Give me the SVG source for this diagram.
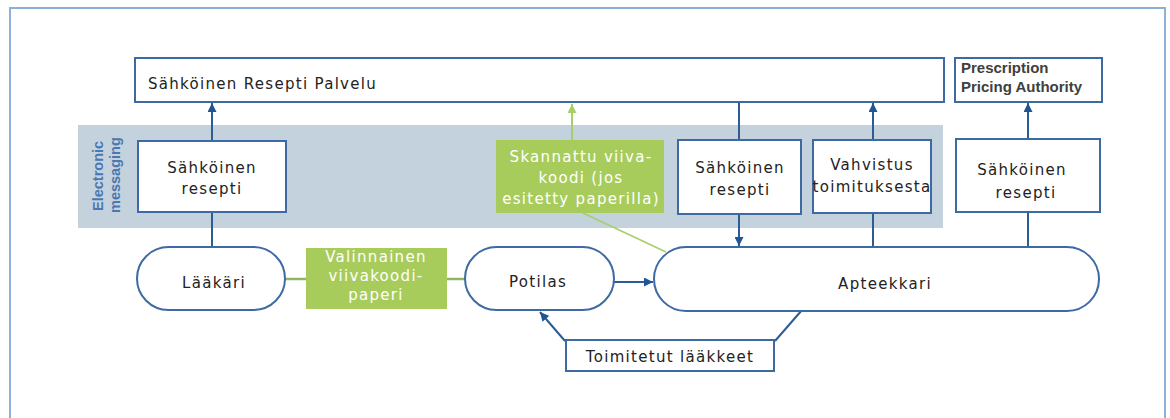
<svg xmlns="http://www.w3.org/2000/svg" width="1170" height="418" viewBox="0 0 1170 418">
<defs>
<style>
.box{fill:#fff;stroke:#3d6aa3;stroke-width:2}
.gbox{fill:#a8cc5c}
.t{font-family:"DejaVu Sans",Verdana,sans-serif;font-size:15px;fill:#222;letter-spacing:1.3px;text-anchor:middle}
.tw{font-family:"DejaVu Sans",Verdana,sans-serif;font-size:15px;fill:#fff;letter-spacing:1.3px;text-anchor:middle}
.c{fill:none;stroke:#2c5c96;stroke-width:2}
.g{fill:none;stroke:#8db86a;stroke-width:2.5}
.gl{fill:none;stroke:#a6cf6a;stroke-width:1.5}
.b{font-family:"Liberation Sans",Arial,sans-serif;font-weight:bold;font-size:15px;fill:#404040}
.em{font-family:"Liberation Sans",Arial,sans-serif;font-weight:bold;font-size:14.5px;fill:#4a78b0}
</style>
<marker id="ab" viewBox="0 0 10 10" refX="10" refY="5" markerWidth="10" markerHeight="9" markerUnits="userSpaceOnUse" orient="auto"><path d="M0,0 L10,5 L0,10 z" fill="#1f5593"/></marker>
<marker id="ag" viewBox="0 0 10 10" refX="10" refY="5" markerWidth="10" markerHeight="9" markerUnits="userSpaceOnUse" orient="auto"><path d="M0,0 L10,5 L0,10 z" fill="#a6cf6a"/></marker>
</defs>
<rect width="1170" height="418" fill="#fff"/>
<rect x="10" y="8" width="1155" height="430" fill="none" stroke="#8db0d8" stroke-width="2"/>
<rect id="band" x="78" y="125" width="865" height="103" fill="#c4d2de"/>
<g id="band-label">
<text class="em" transform="translate(103,211) rotate(-90)">Electronic</text>
<text class="em" transform="translate(120,213) rotate(-90)">messaging</text>
</g>
<g id="connectors">
<line class="c" x1="212" y1="141" x2="212" y2="103" marker-end="url(#ab)"/>
<line class="c" x1="212" y1="212" x2="212" y2="247"/>
<line class="g" x1="285" y1="279" x2="306" y2="279"/>
<line class="g" x1="447" y1="279" x2="465" y2="279"/>
<line class="c" x1="614" y1="282" x2="653" y2="282" marker-end="url(#ab)"/>
<line x1="572" y1="140" x2="572" y2="104" stroke="#a6cf6a" stroke-width="2" marker-end="url(#ag)"/>
<line class="gl" x1="583" y1="213" x2="666" y2="252"/>
<line class="c" x1="739" y1="102" x2="739" y2="140"/>
<line class="c" x1="739" y1="214" x2="739" y2="246" marker-end="url(#ab)"/>
<line class="c" x1="873" y1="140" x2="873" y2="103" marker-end="url(#ab)"/>
<line class="c" x1="873" y1="213" x2="873" y2="247"/>
<line class="c" x1="1028" y1="139" x2="1028" y2="103" marker-end="url(#ab)"/>
<line class="c" x1="1028" y1="212" x2="1028" y2="247"/>
<line class="c" x1="565" y1="341" x2="540" y2="312" marker-end="url(#ab)"/>
<line class="c" x1="775" y1="341" x2="802" y2="310"/>
</g>
<g id="palvelu">
<rect class="box" x="135" y="58" width="809" height="44"/>
<text class="t" x="148" y="89" style="text-anchor:start">Sähköinen Resepti Palvelu</text>
</g>
<g id="ppa">
<rect class="box" x="955" y="58" width="147" height="44"/>
<text class="b" x="961" y="73">Prescription</text>
<text class="b" x="961" y="92">Pricing Authority</text>
</g>
<g id="resepti1">
<rect class="box" x="138" y="141" width="148" height="71"/>
<text class="t" x="212" y="173">Sähköinen</text>
<text class="t" x="212" y="194">resepti</text>
</g>
<g id="skannattu">
<rect class="gbox" x="496" y="140" width="168" height="73"/>
<text class="tw" x="581" y="162">Skannattu viiva-</text>
<text class="tw" x="581" y="183">koodi (jos</text>
<text class="tw" x="581" y="204">esitetty paperilla)</text>
</g>
<g id="resepti2">
<rect class="box" x="678" y="140" width="123" height="74"/>
<text class="t" x="740" y="173">Sähköinen</text>
<text class="t" x="740" y="195">resepti</text>
</g>
<g id="vahvistus">
<rect class="box" x="813" y="140" width="118" height="73"/>
<text class="t" x="872" y="170">Vahvistus</text>
<text class="t" x="872" y="192">toimituksesta</text>
</g>
<g id="resepti3">
<rect class="box" x="956" y="139" width="144" height="73"/>
<text class="t" x="1022" y="175">Sähköinen</text>
<text class="t" x="1026" y="198">resepti</text>
</g>
<g id="laakari">
<rect class="box" x="137" y="247" width="148" height="63" rx="31.5"/>
<text class="t" x="214" y="288">Lääkäri</text>
</g>
<g id="valinnainen">
<rect class="gbox" x="306" y="248" width="141" height="61"/>
<text class="tw" x="376" y="262">Valinnainen</text>
<text class="tw" x="376" y="281">viivakoodi-</text>
<text class="tw" x="376" y="300">paperi</text>
</g>
<g id="potilas">
<rect class="box" x="465" y="247" width="149" height="63" rx="31.5"/>
<text class="t" x="538" y="287">Potilas</text>
</g>
<g id="apteekkari">
<rect class="box" x="654" y="247" width="445" height="64" rx="32"/>
<text class="t" x="885" y="289">Apteekkari</text>
</g>
<g id="toimitetut">
<rect class="box" x="566" y="340" width="208" height="31"/>
<text class="t" x="670" y="362">Toimitetut lääkkeet</text>
</g>
</svg>
